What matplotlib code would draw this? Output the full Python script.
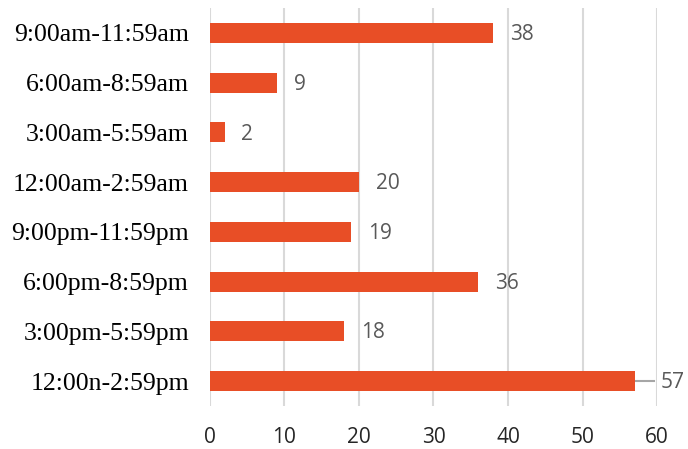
import matplotlib.pyplot as plt

slots = ['12:00n-2:59pm', '3:00pm-5:59pm', '6:00pm-8:59pm', '9:00pm-11:59pm',
         '12:00am-2:59am', '3:00am-5:59am', '6:00am-8:59am', '9:00am-11:59am']
counts = [57, 18, 36, 19, 20, 2, 9, 38]
xticks = [0, 10, 20, 30, 40, 50, 60]

bar_color = '#E84E26'

fig = plt.figure(figsize=(6.88, 4.49), dpi=100)
ax = fig.add_axes([0.305, 0.096, 0.650, 0.886])

ypos = range(len(slots))
ax.barh(ypos, counts, height=0.4, color=bar_color, zorder=3)

ax.set_xlim(0, 60)
ax.set_ylim(-0.5, len(slots) - 0.5)
ax.set_xticks(xticks)
ax.set_yticks(list(ypos))
ax.set_yticklabels(slots, fontfamily='Liberation Serif', fontsize=18.5, color='black')
for lab in ax.get_xticklabels():
    lab.set_fontfamily('Open Sans')
    lab.set_fontsize(15)
    lab.set_color('#262626')

ax.grid(axis='x', color='#D9D9D9', linewidth=1.5, zorder=0)
ax.tick_params(length=0)
ax.tick_params(axis='y', pad=15)
ax.tick_params(axis='x', pad=15)
for s in ax.spines.values():
    s.set_visible(False)

for y, v in zip(ypos, counts):
    if v > 50:
        # label pushed outside with a leader line
        ax.plot([v, v + 2.6], [y, y], color='#A6A6A6', linewidth=1.5, zorder=2, clip_on=False)
        ax.annotate(str(v), (v + 2.6, y), xytext=(5, -1.2), textcoords='offset points',
                    va='center', ha='left', fontsize=15, color='#595959',
                    fontfamily='Open Sans', annotation_clip=False)
    else:
        ax.annotate(str(v), (v, y), xytext=(12, -1.2), textcoords='offset points',
                    va='center', ha='left', fontsize=15, color='#595959',
                    fontfamily='Open Sans')

fig.savefig('out.png', dpi=100)
